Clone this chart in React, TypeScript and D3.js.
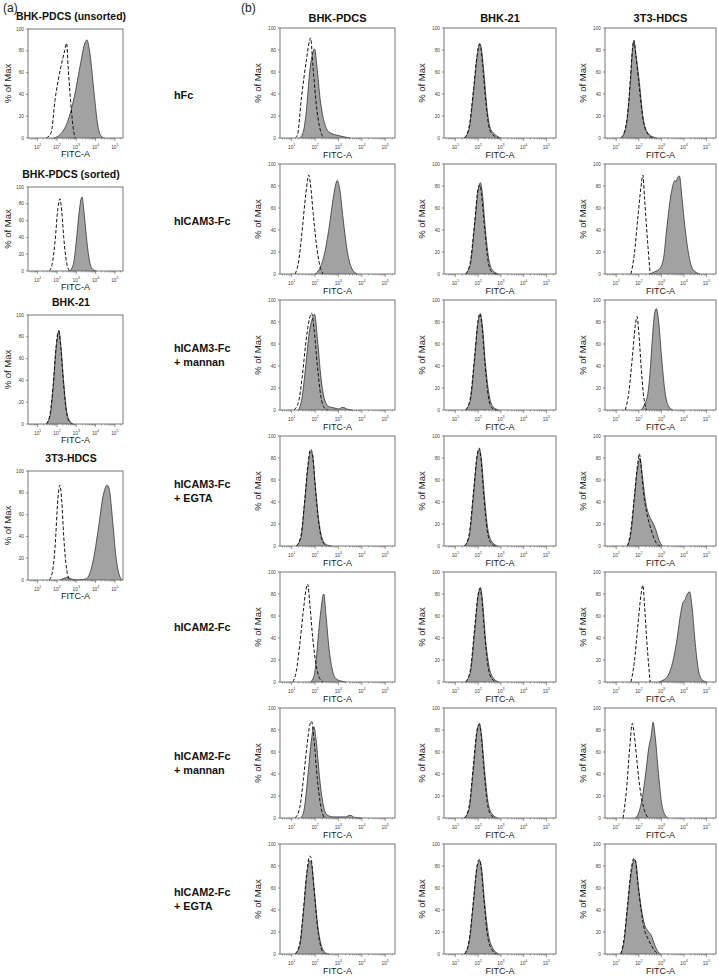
import React from 'react';
import * as d3 from 'd3';

type Pt = [number, number];

// ---------- Panel (a) data: [log10(FITC-A), % of Max] ----------
const a1Control: Pt[] = [[1.45,0],[1.7,5],[1.9,35],[2.2,65],[2.4,80],[2.5,87],[2.58,65],[2.75,25],[2.85,8],[2.95,0]];
const a1Stained: Pt[] = [[1.85,0],[2.15,3],[2.55,15],[2.89,37],[3.24,70],[3.41,85],[3.55,90],[3.67,82],[3.93,40],[4.11,12],[4.28,2],[4.45,0]];
const a2Control: Pt[] = [[1.6,0],[1.75,8],[1.9,35],[2.05,75],[2.15,86],[2.25,70],[2.35,40],[2.5,10],[2.65,0]];
const a2Stained: Pt[] = [[2.65,0],[2.85,8],[3.0,35],[3.15,70],[3.25,86],[3.3,88],[3.4,70],[3.55,35],[3.7,10],[3.85,2],[4.05,0]];
const a3Control: Pt[] = [[1.45,0],[1.65,10],[1.8,35],[1.95,70],[2.05,84],[2.1,85],[2.2,70],[2.35,35],[2.5,10],[2.65,2],[2.8,0]];
const a3Stained: Pt[] = [[1.45,0],[1.65,8],[1.8,33],[1.95,68],[2.03,80],[2.1,86],[2.2,72],[2.35,38],[2.5,12],[2.65,3],[2.85,0]];
const a4Control: Pt[] = [[1.6,0],[1.75,6],[1.9,30],[2.05,75],[2.15,87],[2.25,72],[2.35,40],[2.5,10],[2.65,0]];
const a4Stained: Pt[] = [[2.15,0],[2.35,1.5],[2.55,2.5],[2.75,1],[3.05,0],[3.5,1],[3.7,6],[3.9,20],[4.15,48],[4.4,78],[4.6,87],[4.7,84],[4.88,55],[5.05,22],[5.22,5],[5.38,0]];

// ---------- Panel (b) data ----------
const b11Control: Pt[] = [[1.15,0],[1.25,3],[1.41,35],[1.63,71],[1.77,89],[1.81,91],[1.91,65],[2.08,25],[2.27,4],[2.4,0]];
const b11Stained: Pt[] = [[1.35,0],[1.5,6],[1.63,25],[1.77,60],[1.91,78],[1.98,81],[2.08,65],[2.22,35],[2.41,13],[2.63,5],[3.05,2],[3.5,0]];
const b12Control: Pt[] = [[1.4,0],[1.6,10],[1.8,45],[1.95,75],[2.05,85],[2.1,84],[2.2,65],[2.35,30],[2.5,8],[2.7,2],[2.9,0]];
const b12Stained: Pt[] = [[1.4,0],[1.6,8],[1.8,42],[1.95,73],[2.07,86],[2.15,80],[2.25,60],[2.4,25],[2.55,8],[2.75,3],[3.0,0]];
const b13Control: Pt[] = [[1.2,0],[1.35,5],[1.49,20],[1.63,55],[1.72,82],[1.78,89],[1.87,75],[2.0,50],[2.2,15],[2.42,3],[2.6,0]];
const b13Stained: Pt[] = [[1.2,0],[1.35,4],[1.49,18],[1.63,52],[1.72,80],[1.78,88],[1.87,76],[2.0,55],[2.2,17],[2.42,4],[2.63,1],[2.8,0]];

const b21Control: Pt[] = [[1.15,0],[1.3,12],[1.45,40],[1.6,72],[1.73,90],[1.8,82],[1.92,55],[2.05,28],[2.2,8],[2.35,0]];
const b21Stained: Pt[] = [[2.0,0],[2.2,5],[2.4,18],[2.6,42],[2.8,72],[2.95,85],[3.05,78],[3.2,50],[3.4,18],[3.6,4],[3.8,0]];
const b22Control: Pt[] = [[1.45,0],[1.65,10],[1.85,48],[2.0,78],[2.08,81],[2.15,72],[2.3,38],[2.45,10],[2.6,2],[2.8,0]];
const b22Stained: Pt[] = [[1.45,0],[1.65,8],[1.85,45],[2.0,76],[2.1,83],[2.18,74],[2.32,40],[2.48,12],[2.65,3],[2.9,0]];
const b23Control: Pt[] = [[1.65,0],[1.8,18],[1.95,50],[2.1,80],[2.18,90],[2.25,70],[2.35,40],[2.5,0]];
const b23Stained: Pt[] = [[2.5,0],[2.7,2],[2.93,5],[3.1,15],[3.23,40],[3.45,75],[3.6,85],[3.66,84],[3.72,88],[3.8,89],[3.9,72],[3.98,55],[4.19,20],[4.4,4],[4.7,0]];

const b31Control: Pt[] = [[1.1,0],[1.3,8],[1.45,30],[1.6,60],[1.75,82],[1.85,88],[1.95,75],[2.1,40],[2.25,12],[2.4,2],[2.55,0]];
const b31Stained: Pt[] = [[1.3,0],[1.45,12],[1.6,40],[1.75,70],[1.9,84],[1.98,87],[2.1,65],[2.25,30],[2.4,10],[2.6,3],[2.8,2],[3.0,1],[3.2,2.5],[3.35,1],[3.6,0]];
const b32Control: Pt[] = [[1.45,0],[1.65,10],[1.85,50],[2.0,82],[2.08,88],[2.15,80],[2.3,42],[2.45,12],[2.6,2],[2.8,0]];
const b32Stained: Pt[] = [[1.45,0],[1.65,8],[1.85,47],[2.0,80],[2.1,87],[2.18,78],[2.32,42],[2.48,14],[2.65,3],[2.9,0]];
const b33Control: Pt[] = [[1.4,0],[1.55,15],[1.7,45],[1.85,78],[1.92,85],[2.0,70],[2.1,40],[2.2,15],[2.35,0]];
const b33Stained: Pt[] = [[2.1,0],[2.25,5],[2.4,15],[2.5,35],[2.6,65],[2.7,88],[2.78,92],[2.88,80],[3.0,50],[3.15,18],[3.3,4],[3.5,0]];

const b41Control: Pt[] = [[1.2,0],[1.4,10],[1.55,40],[1.7,75],[1.8,88],[1.88,85],[2.0,55],[2.15,22],[2.3,5],[2.5,0]];
const b41Stained: Pt[] = [[1.2,0],[1.4,8],[1.55,38],[1.7,72],[1.82,86],[1.9,82],[2.0,58],[2.15,25],[2.3,7],[2.5,1],[2.7,0]];
const b42Control: Pt[] = [[1.4,0],[1.6,10],[1.8,50],[1.95,82],[2.05,89],[2.12,80],[2.25,45],[2.4,14],[2.55,3],[2.75,0]];
const b42Stained: Pt[] = [[1.4,0],[1.6,8],[1.8,47],[1.95,80],[2.05,88],[2.13,81],[2.27,47],[2.42,16],[2.6,4],[2.85,0]];
const b43Control: Pt[] = [[1.5,0],[1.65,15],[1.8,45],[1.95,75],[2.02,84],[2.1,72],[2.2,50],[2.35,30],[2.5,18],[2.65,8],[2.8,2],[2.95,0]];
const b43Stained: Pt[] = [[1.5,0],[1.65,12],[1.8,42],[1.95,72],[2.05,80],[2.15,65],[2.3,40],[2.45,28],[2.6,22],[2.75,15],[2.9,5],[3.05,0]];

const b51Control: Pt[] = [[1.05,0],[1.2,10],[1.35,35],[1.5,65],[1.62,85],[1.68,89],[1.78,70],[1.9,40],[2.05,15],[2.2,3],[2.35,0]];
const b51Stained: Pt[] = [[1.8,0],[1.95,5],[2.05,20],[2.15,45],[2.25,65],[2.37,80],[2.47,60],[2.6,30],[2.75,10],[2.9,3],[3.1,1],[3.3,0]];
const b52Control: Pt[] = [[1.45,0],[1.65,10],[1.85,50],[2.0,80],[2.08,85],[2.15,78],[2.3,40],[2.45,12],[2.6,3],[2.8,0]];
const b52Stained: Pt[] = [[1.45,0],[1.65,8],[1.85,46],[2.0,78],[2.1,86],[2.18,76],[2.32,40],[2.48,14],[2.65,4],[2.9,0]];
const b53Control: Pt[] = [[1.65,0],[1.8,18],[1.95,50],[2.1,80],[2.18,88],[2.25,70],[2.35,38],[2.5,0]];
const b53Stained: Pt[] = [[2.9,0],[3.1,2],[3.3,6],[3.5,18],[3.7,40],[3.85,62],[3.95,72],[4.05,75],[4.15,80],[4.25,82],[4.35,70],[4.5,35],[4.65,10],[4.8,2],[5.0,0]];

const b61Control: Pt[] = [[1.15,0],[1.35,10],[1.5,35],[1.65,65],[1.78,85],[1.85,88],[1.95,72],[2.1,35],[2.25,10],[2.4,0]];
const b61Stained: Pt[] = [[1.4,0],[1.55,10],[1.7,40],[1.85,72],[1.95,83],[2.05,70],[2.2,35],[2.35,12],[2.5,3],[2.8,1],[3.3,1],[3.5,2.5],[3.7,0.5],[4.0,0]];
const b62Control: Pt[] = [[1.4,0],[1.6,10],[1.8,50],[1.95,80],[2.05,85],[2.12,78],[2.25,45],[2.4,14],[2.55,3],[2.75,0]];
const b62Stained: Pt[] = [[1.4,0],[1.6,8],[1.8,46],[1.95,78],[2.06,86],[2.14,77],[2.28,44],[2.43,15],[2.6,4],[2.85,0]];
const b63Control: Pt[] = [[1.3,0],[1.45,25],[1.6,65],[1.71,86],[1.8,75],[1.9,55],[2.0,35],[2.15,15],[2.3,4],[2.45,0]];
const b63Stained: Pt[] = [[1.85,0],[2.0,5],[2.15,18],[2.3,40],[2.45,65],[2.55,75],[2.63,87],[2.72,75],[2.85,45],[3.0,15],[3.15,3],[3.3,0]];

const b71Control: Pt[] = [[1.15,0],[1.35,10],[1.5,40],[1.65,75],[1.77,89],[1.82,88],[1.95,60],[2.1,25],[2.25,6],[2.4,0]];
const b71Stained: Pt[] = [[1.15,0],[1.35,8],[1.5,37],[1.65,72],[1.78,85],[1.85,82],[1.97,58],[2.12,25],[2.28,7],[2.45,1],[2.6,0]];
const b72Control: Pt[] = [[1.4,0],[1.6,12],[1.8,50],[1.95,80],[2.05,86],[2.12,80],[2.25,50],[2.4,18],[2.6,4],[2.8,0]];
const b72Stained: Pt[] = [[1.4,0],[1.6,10],[1.8,48],[1.95,78],[2.07,85],[2.15,78],[2.28,48],[2.45,18],[2.65,5],[2.9,0]];
const b73Control: Pt[] = [[1.2,0],[1.35,15],[1.5,45],[1.65,75],[1.78,87],[1.85,85],[1.95,65],[2.1,40],[2.25,22],[2.4,14],[2.55,8],[2.7,3],[2.85,0]];
const b73Stained: Pt[] = [[1.2,0],[1.35,12],[1.5,42],[1.65,72],[1.8,86],[1.88,82],[1.98,62],[2.12,40],[2.25,27],[2.4,21],[2.55,17],[2.71,8],[2.85,2],[2.95,0]];

// ---------- labels ----------
const panelATitles = ['BHK-PDCS (unsorted)', 'BHK-PDCS (sorted)', 'BHK-21', '3T3-HDCS'];
const panelASeries: [Pt[], Pt[]][] = [
  [a1Stained, a1Control], [a2Stained, a2Control], [a3Stained, a3Control], [a4Stained, a4Control],
];
const panelBColumns = ['BHK-PDCS', 'BHK-21', '3T3-HDCS'];
const panelBRows: string[][] = [
  ['hFc'], ['hICAM3-Fc'], ['hICAM3-Fc', '+ mannan'], ['hICAM3-Fc', '+ EGTA'],
  ['hICAM2-Fc'], ['hICAM2-Fc', '+ mannan'], ['hICAM2-Fc', '+ EGTA'],
];
const panelBSeries: [Pt[], Pt[]][][] = [
  [[b11Stained, b11Control], [b12Stained, b12Control], [b13Stained, b13Control]],
  [[b21Stained, b21Control], [b22Stained, b22Control], [b23Stained, b23Control]],
  [[b31Stained, b31Control], [b32Stained, b32Control], [b33Stained, b33Control]],
  [[b41Stained, b41Control], [b42Stained, b42Control], [b43Stained, b43Control]],
  [[b51Stained, b51Control], [b52Stained, b52Control], [b53Stained, b53Control]],
  [[b61Stained, b61Control], [b62Stained, b62Control], [b63Stained, b63Control]],
  [[b71Stained, b71Control], [b72Stained, b72Control], [b73Stained, b73Control]],
];
const yTicks = [0, 20, 40, 60, 80, 100];
const xDecades = [1, 2, 3, 4, 5];
const xAxisLabel = 'FITC-A';
const yAxisLabel = '% of Max';

const FONT = '"Liberation Sans", Arial, sans-serif';
const LOG_MIN = 0.5;
const LOG_MAX = 5.42;

type HistoProps = { x0: number; y0: number; w: number; h: number; stained: Pt[]; control: Pt[]; ylabOff: number; xlabOff: number };

function Histo({ x0, y0, w, h, stained, control, ylabOff, xlabOff }: HistoProps) {
  const x = d3.scaleLog().domain([Math.pow(10, LOG_MIN), Math.pow(10, LOG_MAX)]).range([0, w]);
  const y = d3.scaleLinear().domain([0, 100]).range([h, 0]);
  const px = (d: Pt) => x(Math.pow(10, d[0]));
  const area = d3.area<Pt>().x(px).y0(h).y1((d) => y(d[1])).curve(d3.curveMonotoneX);
  const line = d3.line<Pt>().x(px).y((d) => y(d[1])).curve(d3.curveMonotoneX);
  const minor: number[] = [];
  for (let k = 0; k <= 5; k++) {
    for (let m = 2; m <= 9; m++) {
      const v = m * Math.pow(10, k);
      const lv = Math.log10(v);
      if (lv > LOG_MIN && lv < LOG_MAX) minor.push(v);
    }
  }
  return (
    <g transform={`translate(${x0},${y0})`}>
      <path d={area(stained) || ''} fill="#a2a2a2" stroke="none" />
      <path d={line(stained) || ''} fill="none" stroke="#333" strokeWidth={0.8} />
      <path d={line(control) || ''} fill="none" stroke="#111" strokeWidth={1} strokeDasharray="3.5,2" />
      <rect x={0} y={0} width={w} height={h} fill="none" stroke="#555" strokeWidth={0.8} />
      {yTicks.map((t) => (
        <g key={t}>
          <line x1={-2} x2={0} y1={y(t)} y2={y(t)} stroke="#555" strokeWidth={0.6} />
          <text x={-4} y={y(t)} dy="0.35em" textAnchor="end" fontSize={4.8} fill="#444" fontFamily={FONT}>{t}</text>
        </g>
      ))}
      {minor.map((v) => (
        <line key={v} x1={x(v)} x2={x(v)} y1={h} y2={h + 1.5} stroke="#555" strokeWidth={0.5} />
      ))}
      {xDecades.map((k) => (
        <g key={k}>
          <line x1={x(Math.pow(10, k))} x2={x(Math.pow(10, k))} y1={h} y2={h + 3} stroke="#555" strokeWidth={0.6} />
          <text x={x(Math.pow(10, k))} y={h + 10.5} textAnchor="middle" fontSize={4.8} fill="#444" fontFamily={FONT}>
            10<tspan dy={-2.2} fontSize={3.6}>{k}</tspan>
          </text>
        </g>
      ))}
      <text x={w / 2} y={h + xlabOff} textAnchor="middle" fontSize={9} fill="#222" fontFamily={FONT}>{xAxisLabel}</text>
      <text transform={`translate(${-ylabOff},${h / 2}) rotate(-90)`} textAnchor="middle" dy="0.35em" fontSize={9.5} fill="#222" fontFamily={FONT}>{yAxisLabel}</text>
    </g>
  );
}

const aBox = { x0: 28, x1: 123 };
const aTops = [29, 187, 315, 471];
const aHeights = [109, 84, 109, 109];
const bCols: [number, number][] = [[280, 395], [444, 556], [605, 716]];
const bTop0 = 28;
const bPitch = 136;
const bH = 110;
const rowLabelShift = [12, 2, 0, 0, 0, 0, 0];

export default function App() {
  return (
    <svg width={718} height={976} style={{ position: 'absolute', left: 0, top: 0, background: '#fff' }}>
      <rect width={718} height={976} fill="#fff" />
      <text x={3} y={12} fontSize={12} fontFamily={FONT} fill="#222">(a)</text>
      <text x={241} y={12} fontSize={12} fontFamily={FONT} fill="#222">(b)</text>

      {panelATitles.map((t, i) => (
        <g key={t + i}>
          <text x={71} y={aTops[i] - 9} textAnchor="middle" fontSize={10.5} fontWeight="bold" fontFamily={FONT} fill="#111">{t}</text>
          <Histo x0={aBox.x0} y0={aTops[i]} w={aBox.x1 - aBox.x0} h={aHeights[i]} stained={panelASeries[i][0]} control={panelASeries[i][1]} ylabOff={20} xlabOff={19} />
        </g>
      ))}

      {panelBColumns.map((c, j) => (
        <text key={c} x={(bCols[j][0] + bCols[j][1]) / 2} y={bTop0 - 6} textAnchor="middle" fontSize={11} fontWeight="bold" fontFamily={FONT} fill="#111">{c}</text>
      ))}

      {panelBRows.map((lines, i) => {
        const top = bTop0 + bPitch * i;
        const cy = top + bH / 2 + rowLabelShift[i];
        return (
          <g key={i}>
            {lines.map((ln, k) => (
              <text key={k} x={174} y={cy + (k - (lines.length - 1) / 2) * 14} dy="0.35em" fontSize={10.8} fontWeight="bold" fontFamily={FONT} fill="#111">{ln}</text>
            ))}
            {bCols.map((c, j) => (
              <Histo key={j} x0={c[0]} y0={top} w={c[1] - c[0]} h={bH} stained={panelBSeries[i][j][0]} control={panelBSeries[i][j][1]} ylabOff={22} xlabOff={20} />
            ))}
          </g>
        );
      })}
    </svg>
  );
}
